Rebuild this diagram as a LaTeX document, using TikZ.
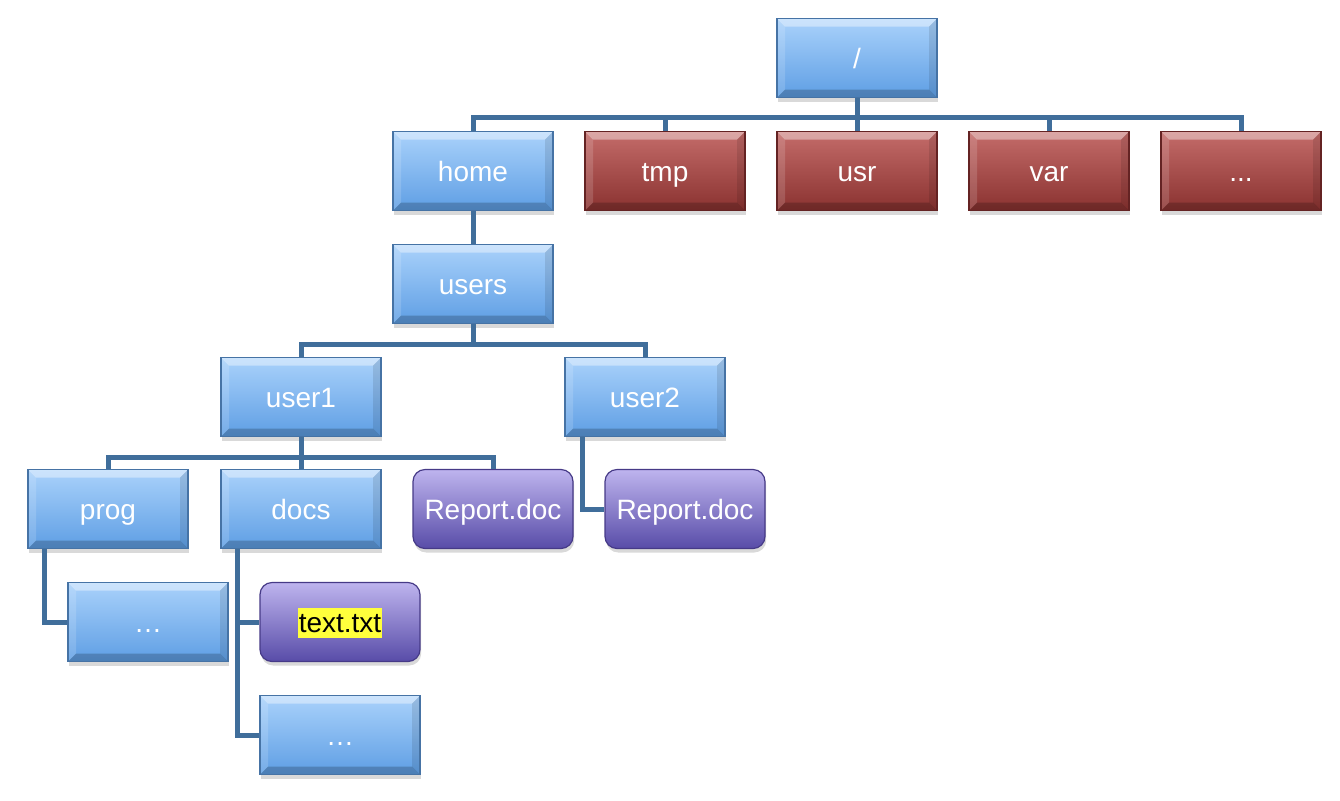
\documentclass[tikz,border=0pt]{standalone}
\usepackage{fontspec}
\setmainfont{Liberation Sans}
\usetikzlibrary{shadows,calc}
\definecolor{bluetop}{RGB}{170,210,251}
\definecolor{bluebot}{RGB}{94,158,228}
\definecolor{blueedge}{RGB}{70,115,165}
\definecolor{redtop}{RGB}{196,108,106}
\definecolor{redbot}{RGB}{138,50,48}
\definecolor{rededge}{RGB}{100,35,35}
\definecolor{purtop}{RGB}{190,180,238}
\definecolor{purbot}{RGB}{88,76,168}
\definecolor{puredge}{RGB}{70,58,135}
\definecolor{wire}{RGB}{64,110,155}
\definecolor{hl}{RGB}{255,255,60}
\tikzset{
  x=0.5pt, y=-0.5pt,
  bevel/.style={path picture={
    \fill[white,opacity=0.4] (path picture bounding box.north west) -- (path picture bounding box.north east)
      -- ([xshift=-4pt,yshift=-4pt]path picture bounding box.north east) -- ([xshift=4pt,yshift=-4pt]path picture bounding box.north west) -- cycle;
    \fill[white,opacity=0.15] (path picture bounding box.north west) -- ([xshift=4pt,yshift=-4pt]path picture bounding box.north west)
      -- ([xshift=4pt,yshift=4pt]path picture bounding box.south west) -- (path picture bounding box.south west) -- cycle;
    \fill[black,opacity=0.1] (path picture bounding box.north east) -- ([xshift=-4pt,yshift=-4pt]path picture bounding box.north east)
      -- ([xshift=-4pt,yshift=4pt]path picture bounding box.south east) -- (path picture bounding box.south east) -- cycle;
    \fill[black,opacity=0.2] (path picture bounding box.south west) -- (path picture bounding box.south east)
      -- ([xshift=-4pt,yshift=4pt]path picture bounding box.south east) -- ([xshift=4pt,yshift=4pt]path picture bounding box.south west) -- cycle;
  }},
  box/.style={minimum width=80pt, minimum height=39.5pt, inner sep=0pt, line width=0.6pt,
    text height=12pt, text depth=2pt,
    font=\fontsize{14}{16}\selectfont, text=white,
    drop shadow={opacity=0.3, shadow xshift=0.6pt, shadow yshift=-2pt}},
  dir/.style={box, draw=blueedge, top color=bluetop, bottom color=bluebot, bevel},
  sys/.style={box, draw=rededge, top color=redtop, bottom color=redbot, bevel},
  file/.style={box, draw=puredge, top color=purtop, bottom color=purbot, rounded corners=6pt},
  wire/.style={draw=wire, line width=2.5pt},
}
\begin{document}
\begin{tikzpicture}
\useasboundingbox (0,0) rectangle (1340,800);
\coordinate (bus0) at (0,117);
\coordinate (bus1) at (0,344);
\coordinate (bus2) at (0,457);

\node[dir] (root) at (857,58) {/};
\node[dir] (home) at (473,171) {home};
\node[sys] (tmp) at (665,171) {tmp};
\node[sys] (usr) at (857,171) {usr};
\node[sys] (var) at (1049,171) {var};
\node[sys] (more) at (1241,171) {...};
\node[dir] (users) at (473,284) {users};
\node[dir] (user1) at (301,397) {user1};
\node[dir] (user2) at (645,397) {user2};
\node[dir] (prog) at (108,509) {prog};
\node[dir] (docs) at (301,509) {docs};
\node[file] (rep1) at (493,509) {Report.doc};
\node[file] (rep2) at (685,509) {Report.doc};
\node[dir] (pdots) at (148,622) {\dots};
\node[file] (textf) at (340,622) {\colorbox{hl}{\hspace{-2.5pt}\textcolor{black}{text.txt}\hspace{-2.5pt}}};
\node[dir] (ddots) at (340,735) {\dots};

\coordinate (pel) at ($(prog.south west)+(17,0)$);
\coordinate (del) at ($(docs.south west)+(17,0)$);
\coordinate (uel) at ($(user2.south west)+(18,0)$);

\path[wire] (root.south) -- (root.south |- bus0);
\path[wire] (home.north) |- (more.north |- bus0) -- (more.north);
\path[wire] (tmp.north) -- (tmp.north |- bus0);
\path[wire] (usr.north) -- (usr.north |- bus0);
\path[wire] (var.north) -- (var.north |- bus0);
\path[wire] (home.south) -- (users.north);
\path[wire] (users.south) -- (users.south |- bus1);
\path[wire] (user1.north) |- (user2.north |- bus1) -- (user2.north);
\path[wire] (user1.south) -- (user1.south |- bus2);
\path[wire] (prog.north) |- (rep1.north |- bus2) -- (rep1.north);
\path[wire] (docs.north) -- (docs.north |- bus2);
\path[wire] (pel) |- (pdots.west);
\path[wire] (del) |- (ddots.west);
\path[wire] (del |- textf.west) -- (textf.west);
\path[wire] (uel) |- (rep2.west);
\end{tikzpicture}
\end{document}
